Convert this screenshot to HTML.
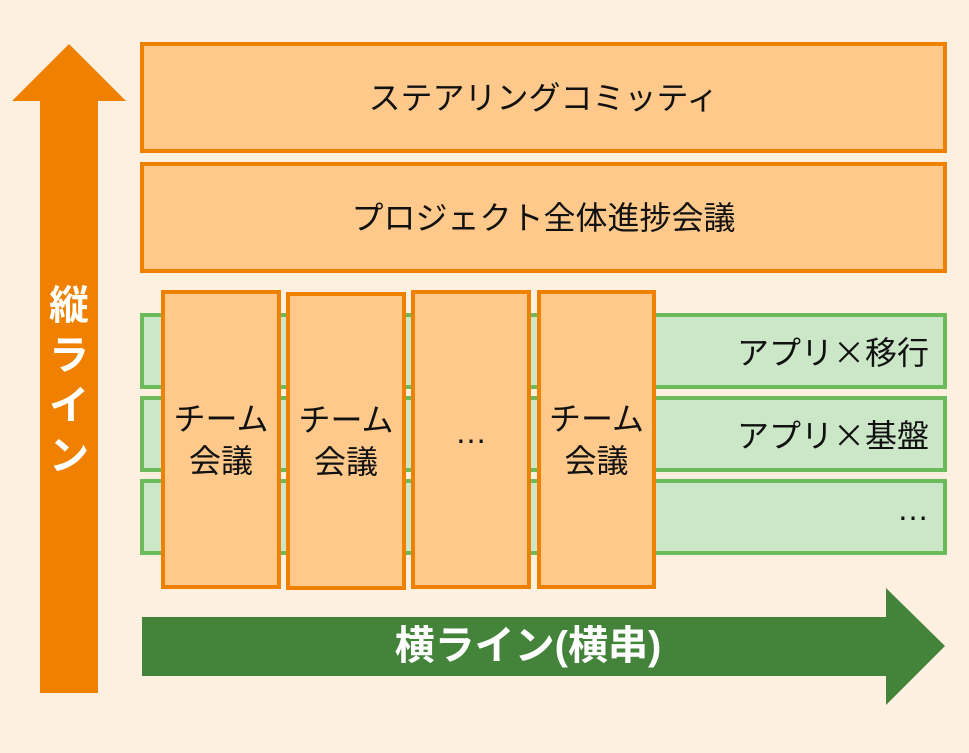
<!DOCTYPE html>
<html><head><meta charset="utf-8"><style>
*{margin:0;padding:0;box-sizing:border-box}
body{width:969px;height:753px;background:#fdf0e0;position:relative;overflow:hidden;font-family:"Liberation Sans","Noto Sans CJK JP",sans-serif;color:#111}
.o{position:absolute;background:#fec98a;border:4px solid #f08000;display:flex;align-items:center;justify-content:center;text-align:center;font-size:32px;line-height:42px}
.g{position:absolute;left:140px;width:807px;background:#cce6c8;border:4px solid #6cbb5a;font-size:32px;display:flex;align-items:center;justify-content:flex-end;padding-right:14px}
.x{font-family:"Noto Sans CJK JP",sans-serif}
.d{position:relative;top:-8px}
</style></head><body>
<svg width="969" height="753" style="position:absolute;left:0;top:0">
<polygon points="69,44 126,101 98,101 98,693 40,693 40,101 12,101" fill="#f08000"/>
<polygon points="142,617 886,617 886,588 945,646 886,705 886,676 142,676" fill="#43833a"/>
</svg>
<div style="position:absolute;left:40px;top:281px;width:58px;color:#fff;font-weight:bold;font-size:40px;line-height:50px;text-align:center">縦<br>ラ<br>イ<br>ン</div>
<div style="position:absolute;left:142px;top:617px;width:772px;color:#fff;font-weight:bold;font-size:40px;line-height:59px;text-align:center">横ライン(横串)</div>
<div class="o" style="left:140px;top:42px;width:807px;height:111px">ステアリングコミッティ</div>
<div class="o" style="left:140px;top:162px;width:807px;height:111px">プロジェクト全体進捗会議</div>
<div class="g" style="top:313px;height:76px">アプリ<span class="x">×</span>移行</div>
<div class="g" style="top:396px;height:76px">アプリ<span class="x">×</span>基盤</div>
<div class="g" style="top:479px;height:76px"><span class="d">…</span></div>
<div class="o" style="left:161px;top:290px;width:120px;height:299px">チーム<br>会議</div>
<div class="o" style="left:286px;top:292px;width:120px;height:298px">チーム<br>会議</div>
<div class="o" style="left:411px;top:290px;width:120px;height:299px"><span class="d">…</span></div>
<div class="o" style="left:537px;top:290px;width:119px;height:299px">チーム<br>会議</div>
</body></html>
